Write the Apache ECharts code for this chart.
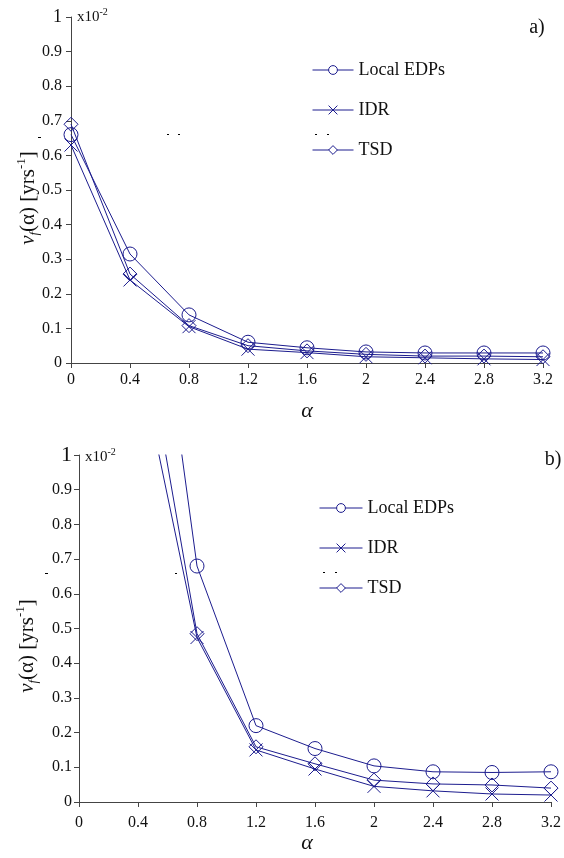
<!DOCTYPE html>
<html>
<head>
<meta charset="utf-8">
<script src="https://cdn.jsdelivr.net/npm/echarts@6/dist/echarts.min.js"></script>
<style>
html,body{margin:0;padding:0;background:#fff;}
#chart{width:564px;height:858px;}
</style>
</head>
<body>
<div id="chart"></div>
<script>
// ---- data ----
const seriesNames = ['Local EDPs', 'IDR', 'TSD'];
const xTop = [0, 0.4, 0.8, 1.2, 1.6, 2, 2.4, 2.8, 3.2];
const topLocal = [0.66, 0.315, 0.139, 0.06, 0.044, 0.032, 0.029, 0.029, 0.029];
const topIDR   = [0.63, 0.24, 0.105, 0.04, 0.03, 0.018, 0.015, 0.012, 0.01];
const topTSD   = [0.69, 0.257, 0.108, 0.05, 0.035, 0.025, 0.02, 0.02, 0.018];

const xBot = [0.4, 0.8, 1.2, 1.6, 2, 2.4, 2.8, 3.2];
const botLocal = [1.93, 0.68, 0.22, 0.154, 0.104, 0.087, 0.085, 0.087];
const botIDR   = [1.29, 0.474, 0.15, 0.095, 0.045, 0.032, 0.023, 0.02];
const botTSD   = [1.46, 0.485, 0.159, 0.11, 0.063, 0.052, 0.049, 0.04];

const yTicks = [0, 0.1, 0.2, 0.3, 0.4, 0.5, 0.6, 0.7, 0.8, 0.9, 1];

// ---- style ----
const NAVY = '#1c1c8e';
const SERIF = 'Liberation Serif';
const crossPath = 'path://M0,0L10,10M10,0L0,10';
const symbols = ['circle', crossPath, 'diamond'];
const symSizes = [14, 13, 14];

function pair(xs, ys) { return xs.map((x, i) => [x, ys[i]]); }
function fmt(v) { return String(Math.round(v * 10) / 10); }

function makeSeries(gi, datas, xs) {
  return datas.map((d, i) => ({
    name: seriesNames[i],
    type: 'line',
    xAxisIndex: gi, yAxisIndex: gi,
    data: pair(xs, d),
    symbol: symbols[i],
    symbolSize: symSizes[i],
    showSymbol: true,
    clip: true,
    animation: false,
    lineStyle: { color: NAVY, width: 1 },
    itemStyle: { color: 'rgba(0,0,0,0)', borderColor: NAVY, borderWidth: 1 }
  }));
}

function xAxisCfg(gi) {
  return {
    type: 'value', gridIndex: gi, min: 0, max: 3.2, interval: 0.4,
    axisLine: { lineStyle: { color: '#444', width: 1 } },
    axisTick: { length: 5, lineStyle: { color: '#444' } },
    axisLabel: { formatter: fmt, color: '#111', fontFamily: SERIF, fontSize: 16, margin: 9 },
    splitLine: { show: false }
  };
}

function yAxisCfg(gi, min, bigSize, margin) {
  return {
    type: 'value', gridIndex: gi, min: min, max: 1,
    axisLine: { show: true, lineStyle: { color: '#444', width: 1 } },
    axisTick: { show: true, length: 5, customValues: yTicks, lineStyle: { color: '#444' } },
    axisLabel: {
      customValues: yTicks,
      formatter: v => (Math.abs(v - 1) < 1e-9 ? '{big|1}' : fmt(v)),
      color: '#111', fontFamily: SERIF, fontSize: 16, margin: margin,
      rich: { big: { fontSize: bigSize, fontFamily: SERIF, color: '#111' } }
    },
    splitLine: { show: false }
  };
}

function yName(x, y) {
  return {
    type: 'text', x: x, y: y, rotation: Math.PI / 2,
    style: {
      text: '{v|v}{f|f}{t|(α) [yrs}{s|-1}{t|]}',
      align: 'center', verticalAlign: 'middle',
      rich: {
        v: { fontFamily: SERIF, fontStyle: 'italic', fontSize: 21, lineHeight: 26, fill: '#111' },
        f: { fontFamily: SERIF, fontStyle: 'italic', fontSize: 13, lineHeight: 26, verticalAlign: 'bottom', fill: '#111' },
        t: { fontFamily: SERIF, fontSize: 21, lineHeight: 26, fill: '#111' },
        s: { fontFamily: SERIF, fontSize: 13, lineHeight: 26, verticalAlign: 'top', fill: '#111' }
      }
    }
  };
}

function textEl(x, y, txt, size, italic) {
  return { type: 'text', x: x, y: y, style: { text: txt, fontFamily: SERIF, fontSize: size, fontStyle: italic ? 'italic' : 'normal', fill: '#111', align: 'center', verticalAlign: 'middle' } };
}

function mult(x, y) {
  return {
    type: 'text', x: x, y: y,
    style: {
      text: '{a|x10}{s|-2}', align: 'left', verticalAlign: 'middle',
      rich: {
        a: { fontFamily: SERIF, fontSize: 15, lineHeight: 20, fill: '#111' },
        s: { fontFamily: SERIF, fontSize: 10, lineHeight: 20, verticalAlign: 'top', fill: '#111' }
      }
    }
  };
}

function dash(x1, x2, y) {
  return { type: 'line', shape: { x1: x1, y1: y, x2: x2, y2: y }, style: { stroke: '#000', lineWidth: 1 } };
}

function legendCfg(left, top, w) {
  return {
    left: left, top: top, padding: 0, orient: 'vertical',
    itemWidth: w, itemHeight: 11, itemGap: 20,
    data: seriesNames,
    lineStyle: { width: 1, color: NAVY },
    itemStyle: { color: '#fff', borderColor: NAVY, borderWidth: 1 },
    textStyle: { fontFamily: SERIF, fontSize: 18, lineHeight: 20, color: '#111' }
  };
}

const chart = echarts.init(document.getElementById('chart'), null, { renderer: 'canvas' });
chart.setOption({
  backgroundColor: '#fff',
  animation: false,
  grid: [
    { left: 71, top: 17, width: 472, height: 346 },
    { left: 79, top: 455, width: 472, height: 351 }
  ],
  xAxis: [xAxisCfg(0), xAxisCfg(1)],
  yAxis: [yAxisCfg(0, 0, 18, 9), yAxisCfg(1, -0.0116, 22, 7)],
  legend: [legendCfg(312, 60, 41), legendCfg(319, 498, 43)],
  series: [].concat(
    makeSeries(0, [topLocal, topIDR, topTSD], xTop),
    makeSeries(1, [botLocal, botIDR, botTSD], xBot)
  ),
  graphic: [
    yName(28, 198),
    yName(27, 646),
    textEl(307, 411, 'α', 22, true),
    textEl(307, 843, 'α', 22, true),
    mult(77, 17),
    mult(85, 457),
    textEl(537, 28, 'a)', 20, false),
    textEl(553, 460, 'b)', 20, false),
    dash(38, 41, 137.5), dash(167, 169, 134.5), dash(178, 180, 134.5),
    dash(315, 317, 134.5), dash(327, 329, 134.5),
    dash(45, 48, 573.5), dash(175, 177, 573.5),
    dash(323, 325, 572.5), dash(335, 337, 572.5)
  ]
});
</script>
</body>
</html>
